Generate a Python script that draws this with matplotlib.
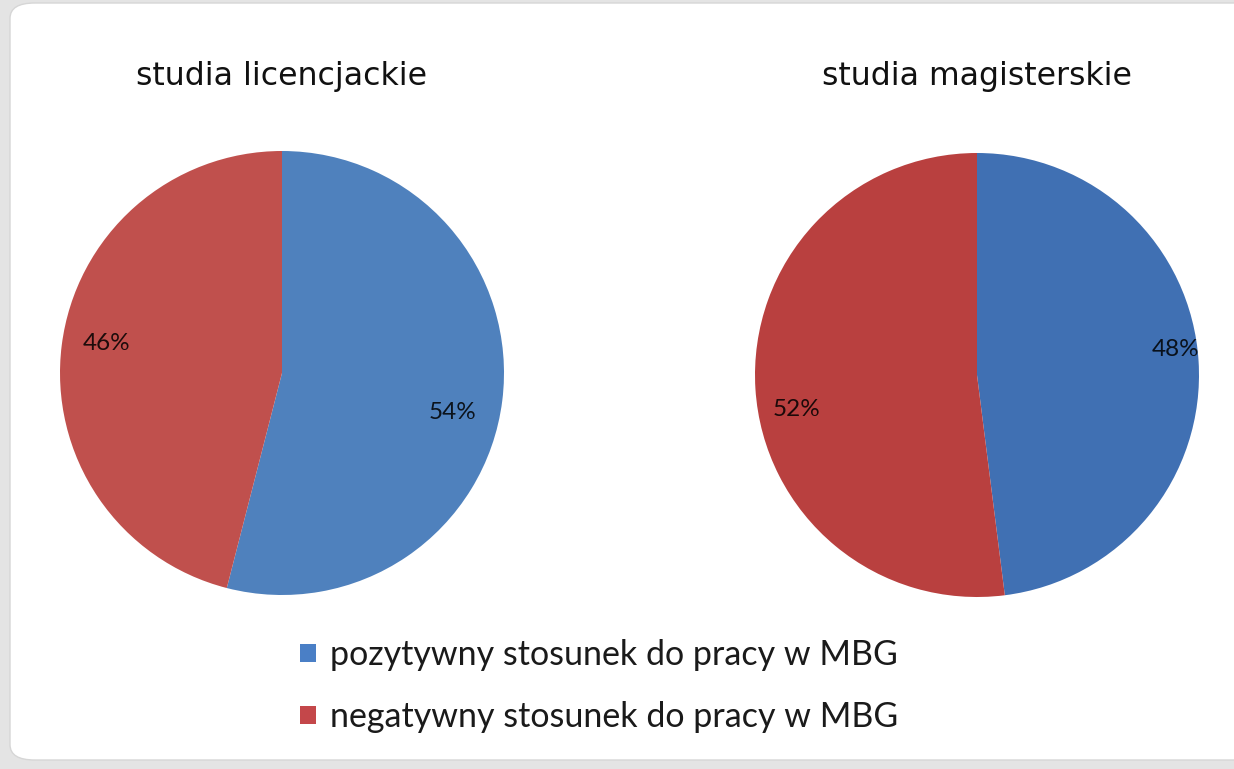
import matplotlib.pyplot as plt
from matplotlib.patches import FancyBboxPatch, Patch

titles = ["studia licencjackie", "studia magisterskie"]
categories = ["pozytywny stosunek do pracy w MBG", "negatywny stosunek do pracy w MBG"]
licencjackie = [54, 46]
magisterskie = [48, 52]

colors_left = ["#4f81bd", "#c0504d"]
colors_right = ["#4070b3", "#b9403f"]
legend_colors = ["#4a7fc6", "#c4474a"]

# where the percentage labels sit inside each pie (radius = 1)
label_pos_left = [(0.77, -0.18), (-0.79, 0.135)]
label_pos_right = [(0.895, 0.115), (-0.815, -0.155)]

W, H = 1234, 769
fig = plt.figure(figsize=(W / 100, H / 100), dpi=100, facecolor="#e4e4e4")

# white panel with rounded corners
panel = FancyBboxPatch((10 / W, 9 / H), 1.05, (H - 12) / H,
                       boxstyle="round,pad=0,rounding_size=0.02",
                       transform=fig.transFigure, facecolor="white",
                       edgecolor="#d6d6d6", linewidth=1.0, zorder=-5)
fig.patches.append(panel)


def draw_pie(cx, cy, values, colors, label_pos, title):
    r = 222
    ax = fig.add_axes([(cx - r) / W, (H - cy - r) / H, 2 * r / W, 2 * r / H])
    ax.patch.set_visible(False)
    wedges, texts, autotexts = ax.pie(
        values, colors=colors, startangle=90, counterclock=False,
        autopct="%d%%",
        textprops={"fontsize": 17.5, "color": "black", "alpha": 0.85,
                   "family": "Lato"},
        wedgeprops={"linewidth": 0})
    for t, pos in zip(autotexts, label_pos):
        t.set_position(pos)
    ax.set_xlim(-1, 1)
    ax.set_ylim(-1, 1)
    ax.set_aspect("equal")
    fig.text(cx / W, 1 - 76 / H, title, ha="center", va="center",
             fontsize=22.7, color="#111111", family="DejaVu Sans")
    return ax


draw_pie(282, 373, licencjackie, colors_left, label_pos_left, titles[0])
draw_pie(977, 375, magisterskie, colors_right, label_pos_right, titles[1])

handles = [Patch(facecolor=c, edgecolor="none") for c in legend_colors]
fig.legend(handles, categories, loc="center left",
           bbox_to_anchor=(300 / W, 1 - 686 / H), frameon=False,
           prop={"family": "Lato", "size": 24.5}, handlelength=0.47,
           handleheight=0.47, handletextpad=0.42, labelspacing=0.88,
           borderpad=0, borderaxespad=0, labelcolor="#1a1a1a")

fig.savefig("out.png", dpi=100, facecolor=fig.get_facecolor())
